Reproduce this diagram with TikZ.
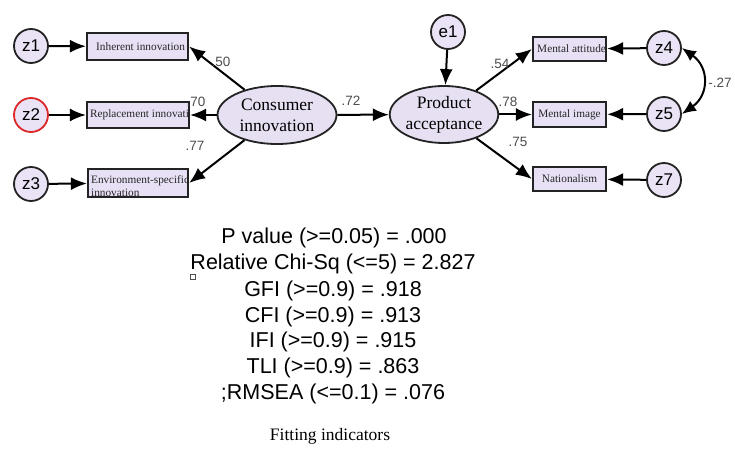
\documentclass[tikz,border=0pt]{standalone}
\usepackage{fontspec}
\setmainfont{Liberation Serif}
\setsansfont{Liberation Sans}
\usetikzlibrary{arrows.meta,shapes.geometric}
\definecolor{boxfill}{RGB}{232,224,245}
\definecolor{latfill}{RGB}{230,224,242}
\definecolor{errfill}{RGB}{234,226,245}
\definecolor{edge}{RGB}{35,35,35}
\definecolor{redring}{RGB}{220,40,40}
\begin{document}
\begin{tikzpicture}[x=1pt,y=1pt]
\tikzset{
  obs/.style={draw=edge, line width=2.2pt, fill=boxfill, inner sep=0pt},
  boxtext/.style={font=\fontsize{11.3}{13.5}\selectfont, inner sep=0pt, text=black!85},
  lat/.style={draw=edge, ellipse, line width=1.8pt, fill=latfill, inner sep=0pt, align=center, font=\fontsize{17.5}{21}\selectfont},
  err/.style={draw=edge, circle, line width=1.8pt, fill=errfill, minimum size=34pt, inner sep=0pt, font=\sffamily\fontsize{17}{17}\selectfont},
  arr/.style={draw=black, line width=2pt, -{Latex[length=16pt,width=13pt]}},
  coef/.style={font=\sffamily\fontsize{13.5}{13.5}\selectfont, text=black!70, inner sep=0pt},
  fit/.style={font=\sffamily\fontsize{21.5}{21.5}\selectfont, inner sep=0pt},
}
\useasboundingbox (0,0) rectangle (735,-449);
\fill[white] (0,0) rectangle (735,-449);

% error terms
\node[err] (z1) at (31,-46) {z1};
\node[err, draw=redring] (z2) at (31,-115) {z2};
\node[err] (z3) at (31,-184) {z3};
\node[err] (e1) at (448,-32) {e1};
\node[err] (z4) at (664,-48) {z4};
\node[err] (z5) at (664,-114) {z5};
\node[err] (z7) at (664,-180) {z7};

% observed boxes
\node[obs, minimum width=101pt, minimum height=27pt,
  path picture={\node[boxtext, anchor=west] at ([xshift=2pt]path picture bounding box.west) {Inherent innovation};}]
  (b1) at (137.5,-46.5) {};
\node[obs, minimum width=102pt, minimum height=26pt,
  path picture={\node[boxtext, anchor=west] at ([xshift=2pt]path picture bounding box.west) {Replacement innovation};}]
  (b2) at (138,-115) {};
\node[obs, minimum width=100pt, minimum height=28pt,
  path picture={\node[boxtext, anchor=north west, align=left] at ([xshift=1pt,yshift=-2pt]path picture bounding box.north west) {Environment-specific\\innovation};}]
  (b3) at (138,-183) {};
\node[obs, minimum width=73pt, minimum height=24pt,
  path picture={\node[boxtext, anchor=west] at ([xshift=1pt]path picture bounding box.west) {Mental attitude};}]
  (m1) at (569.5,-49) {};
\node[obs, minimum width=73pt, minimum height=25pt,
  path picture={\node[boxtext] at (path picture bounding box.center) {Mental image};}]
  (m2) at (569.5,-114.5) {};
\node[obs, minimum width=73pt, minimum height=24pt,
  path picture={\node[boxtext] at (path picture bounding box.center) {Nationalism};}]
  (m3) at (569.5,-179) {};

% latent variables
\node[lat, minimum width=119pt, minimum height=58pt] (ci) at (277,-115) {Consumer\\innovation};
\node[lat, minimum width=106pt, minimum height=57pt] (pa) at (444,-114.5) {Product\\acceptance};

% arrows
\draw[arr] (z1) -- (b1);
\draw[arr] (z2) -- (b2);
\draw[arr] (z3) -- (b3);
\draw[arr] (ci) -- (b1.east);
\draw[arr] (ci) -- (b2);
\draw[arr] (ci) -- (b3.east);
\draw[arr] (ci) -- (pa);
\draw[arr] (e1) -- (pa);
\draw[arr] (pa) -- (m1.west);
\draw[arr] (pa) -- (m2);
\draw[arr] (pa) -- (m3.west);
\draw[arr] (z4) -- (m1);
\draw[arr] (z5) -- (m2);
\draw[arr] (z7) -- (m3);
\draw[line width=2pt, {Latex[length=14pt,width=12pt]}-{Latex[length=14pt,width=12pt]}]
  (z4.east) to[out=-35,in=35,looseness=1.3] (z5.east);

% coefficients
\node[coef] at (221,-62) {.50};
\node[coef] at (196,-102) {.70};
\node[coef] at (195,-146) {.77};
\node[coef] at (351,-101) {.72};
\node[coef] at (500,-64) {.54};
\node[coef] at (508,-102) {.78};
\node[coef] at (518,-142) {.75};
\node[coef] at (720,-83) {-.27};

% fit indicators
\node[fit] (f1) at (334,-238) {P value (>=0.05) = .000};
\node[fit] (f2) at (333,-264) {Relative Chi-Sq (<=5) = 2.827};
\node[fit] (f3) at (333,-291) {GFI (>=0.9) = .918};
\node[fit] (f4) at (333,-317) {CFI (>=0.9) = .913};
\node[fit] (f5) at (333,-342) {IFI (>=0.9) = .915};
\node[fit] (f6) at (333,-368) {TLI (>=0.9) = .863};
\node[fit] (f7) at (333,-394) {;RMSEA (<=0.1) = .076};
\draw[line width=0.7pt, black!70] (190,-274) rectangle (195,-279);
\node[font=\fontsize{17.5}{17.5}\selectfont, inner sep=0pt] (cap) at (330,-436) {Fitting indicators};
\end{tikzpicture}
\end{document}
